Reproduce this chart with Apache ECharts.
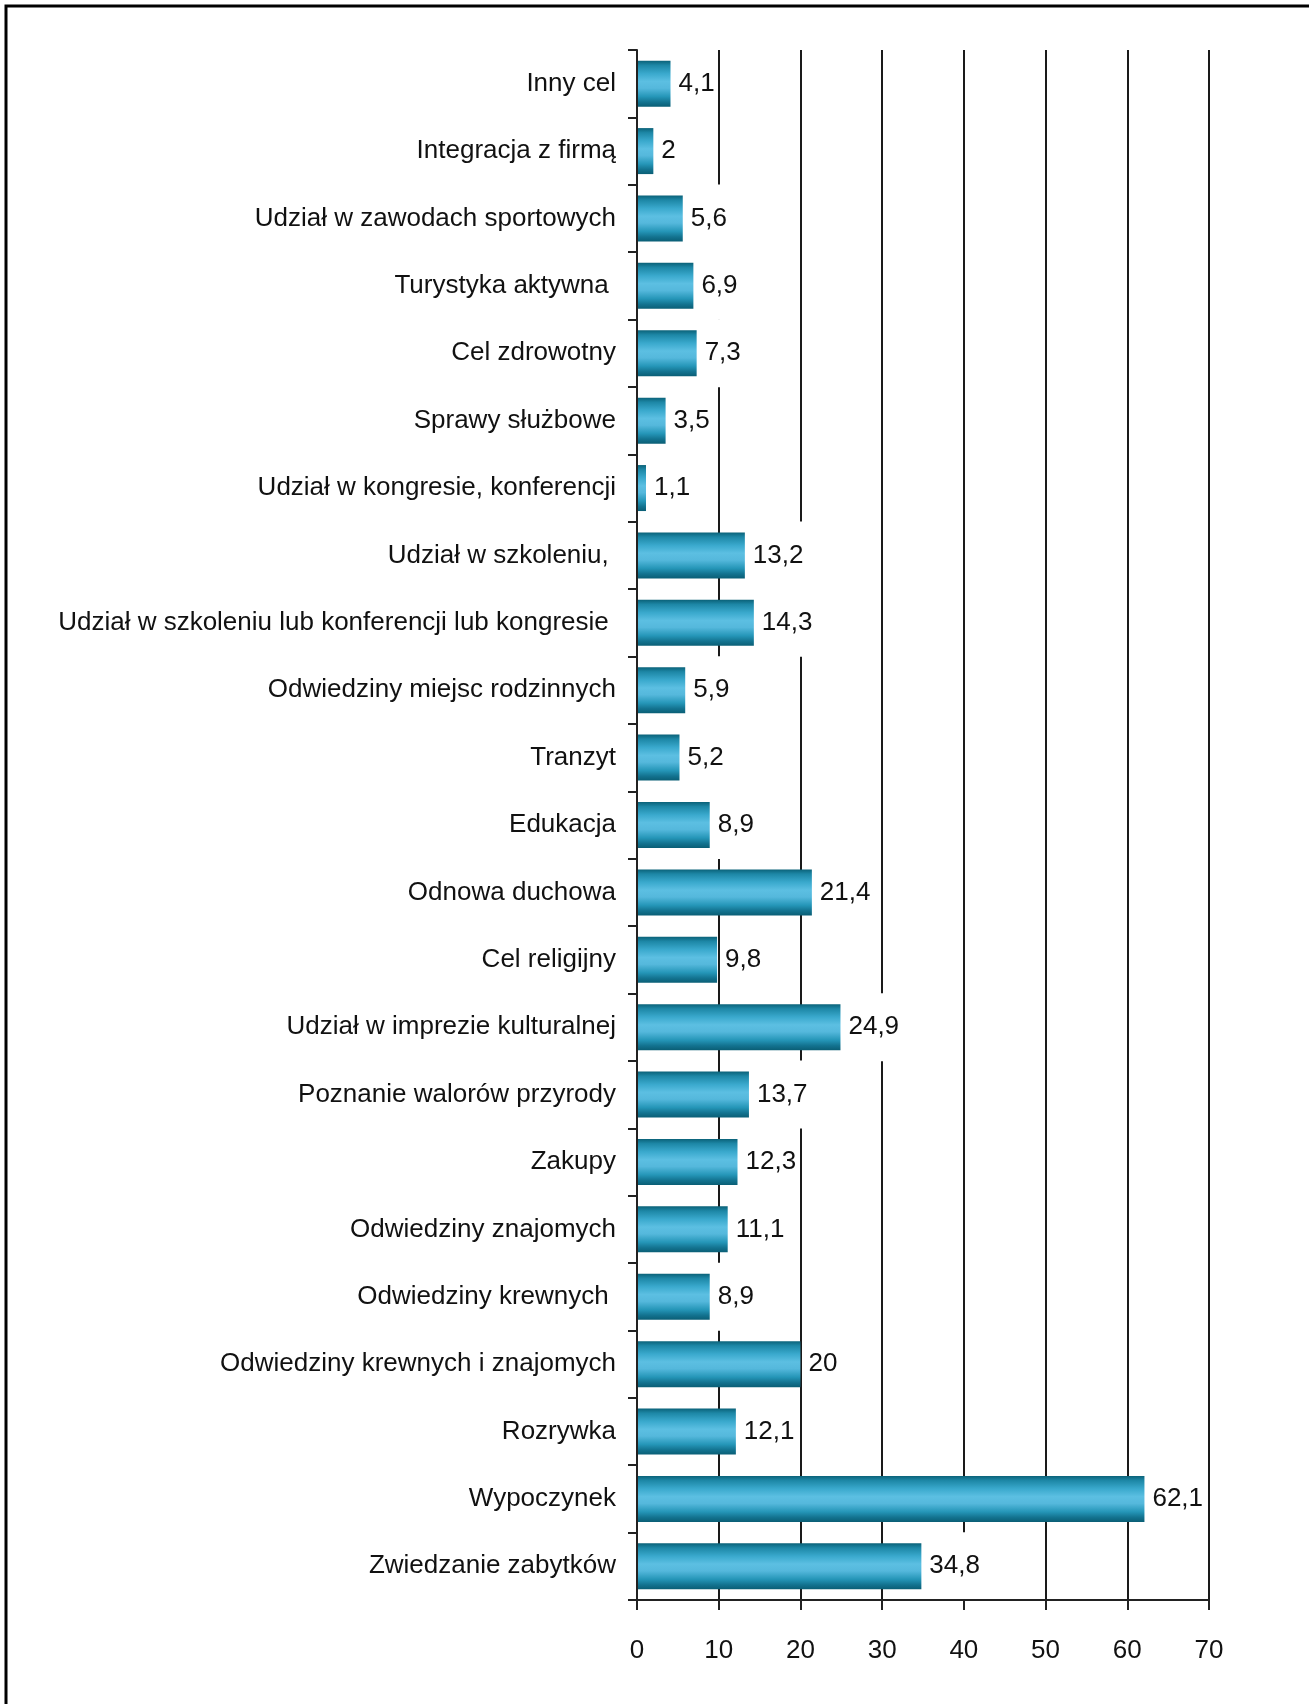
<!DOCTYPE html>
<html>
<head>
<meta charset="utf-8">
<script src="https://cdn.jsdelivr.net/npm/echarts@6/dist/echarts.min.js"></script>
<style>
html,body{margin:0;padding:0;background:#fff;}
#chart{width:1309px;height:1704px;}
</style>
</head>
<body>
<div id="chart"></div>
<script>
const categories = [
  "Inny cel",
  "Integracja z firmą",
  "Udział w zawodach sportowych",
  "Turystyka aktywna ",
  "Cel zdrowotny",
  "Sprawy służbowe",
  "Udział w kongresie, konferencji",
  "Udział w szkoleniu, ",
  "Udział w szkoleniu lub konferencji lub kongresie ",
  "Odwiedziny miejsc rodzinnych",
  "Tranzyt",
  "Edukacja",
  "Odnowa duchowa",
  "Cel religijny",
  "Udział w imprezie kulturalnej",
  "Poznanie walorów przyrody",
  "Zakupy",
  "Odwiedziny znajomych",
  "Odwiedziny krewnych ",
  "Odwiedziny krewnych i znajomych",
  "Rozrywka",
  "Wypoczynek",
  "Zwiedzanie zabytków"
];
const values = [4.1, 2, 5.6, 6.9, 7.3, 3.5, 1.1, 13.2, 14.3, 5.9, 5.2, 8.9, 21.4, 9.8, 24.9, 13.7, 12.3, 11.1, 8.9, 20, 12.1, 62.1, 34.8];
const xTicks = [0, 10, 20, 30, 40, 50, 60, 70];

const FONT = '"Liberation Sans Narrow", "Arial Narrow", "Liberation Sans", Arial, sans-serif';
const chart = echarts.init(document.getElementById('chart'), null, {renderer: 'canvas'});

const barGradient = new echarts.graphic.LinearGradient(0, 0, 0, 1, [
  {offset: 0, color: '#0b6279'},
  {offset: 0.1, color: '#1d87a6'},
  {offset: 0.28, color: '#3aa9cd'},
  {offset: 0.45, color: '#5cbfe2'},
  {offset: 0.6, color: '#55b8dc'},
  {offset: 0.78, color: '#2596b8'},
  {offset: 0.9, color: '#137390'},
  {offset: 1, color: '#0a5e75'}
]);

const xMin = xTicks[0], xMax = xTicks[xTicks.length - 1];

chart.setOption({
  backgroundColor: '#ffffff',
  animation: false,
  grid: {left: 637, right: 100, top: 50, bottom: 104, containLabel: false, outerBoundsMode: 'none'},
  xAxis: [{
    type: 'value',
    min: xMin,
    max: xMax,
    interval: 10,
    z: 10,
    axisLine: {show: true, lineStyle: {color: '#222', width: 2}},
    axisTick: {show: true, inside: false, length: 10, lineStyle: {color: '#222', width: 2}},
    axisLabel: {margin: 38, color: '#111', fontSize: 26, fontFamily: FONT},
    splitLine: {show: false}
  }, {
    type: 'value',
    position: 'bottom',
    min: xMin,
    max: xMax,
    interval: 10,
    z: 0,
    axisLine: {show: false},
    axisTick: {show: false},
    axisLabel: {show: false},
    splitLine: {show: true, lineStyle: {color: '#1a1a1a', width: 2}}
  }],
  yAxis: {
    type: 'category',
    data: categories,
    inverse: true,
    z: 10,
    axisLine: {show: true, onZero: false, lineStyle: {color: '#222', width: 2}},
    axisTick: {show: true, length: 9, lineStyle: {color: '#222', width: 2}},
    axisLabel: {margin: 21, color: '#111', fontSize: 26, fontFamily: FONT},
    splitLine: {show: false}
  },
  series: [{
    type: 'bar',
    xAxisIndex: 0,
    data: values,
    barWidth: 46,
    itemStyle: {color: barGradient},
    label: {
      show: true,
      position: 'right',
      distance: 6,
      color: '#111',
      fontSize: 26,
      lineHeight: 27,
      fontFamily: FONT,
      backgroundColor: '#ffffff',
      padding: [20, 0, 21, 2],
      formatter: p => String(p.value).replace('.', ',')
    }
  }],
  graphic: [{
    type: 'polyline',
    shape: {points: [[6, 1704], [6, 6], [1309, 6]]},
    style: {stroke: '#000', lineWidth: 3, fill: null}
  }]
});
</script>
</body>
</html>
